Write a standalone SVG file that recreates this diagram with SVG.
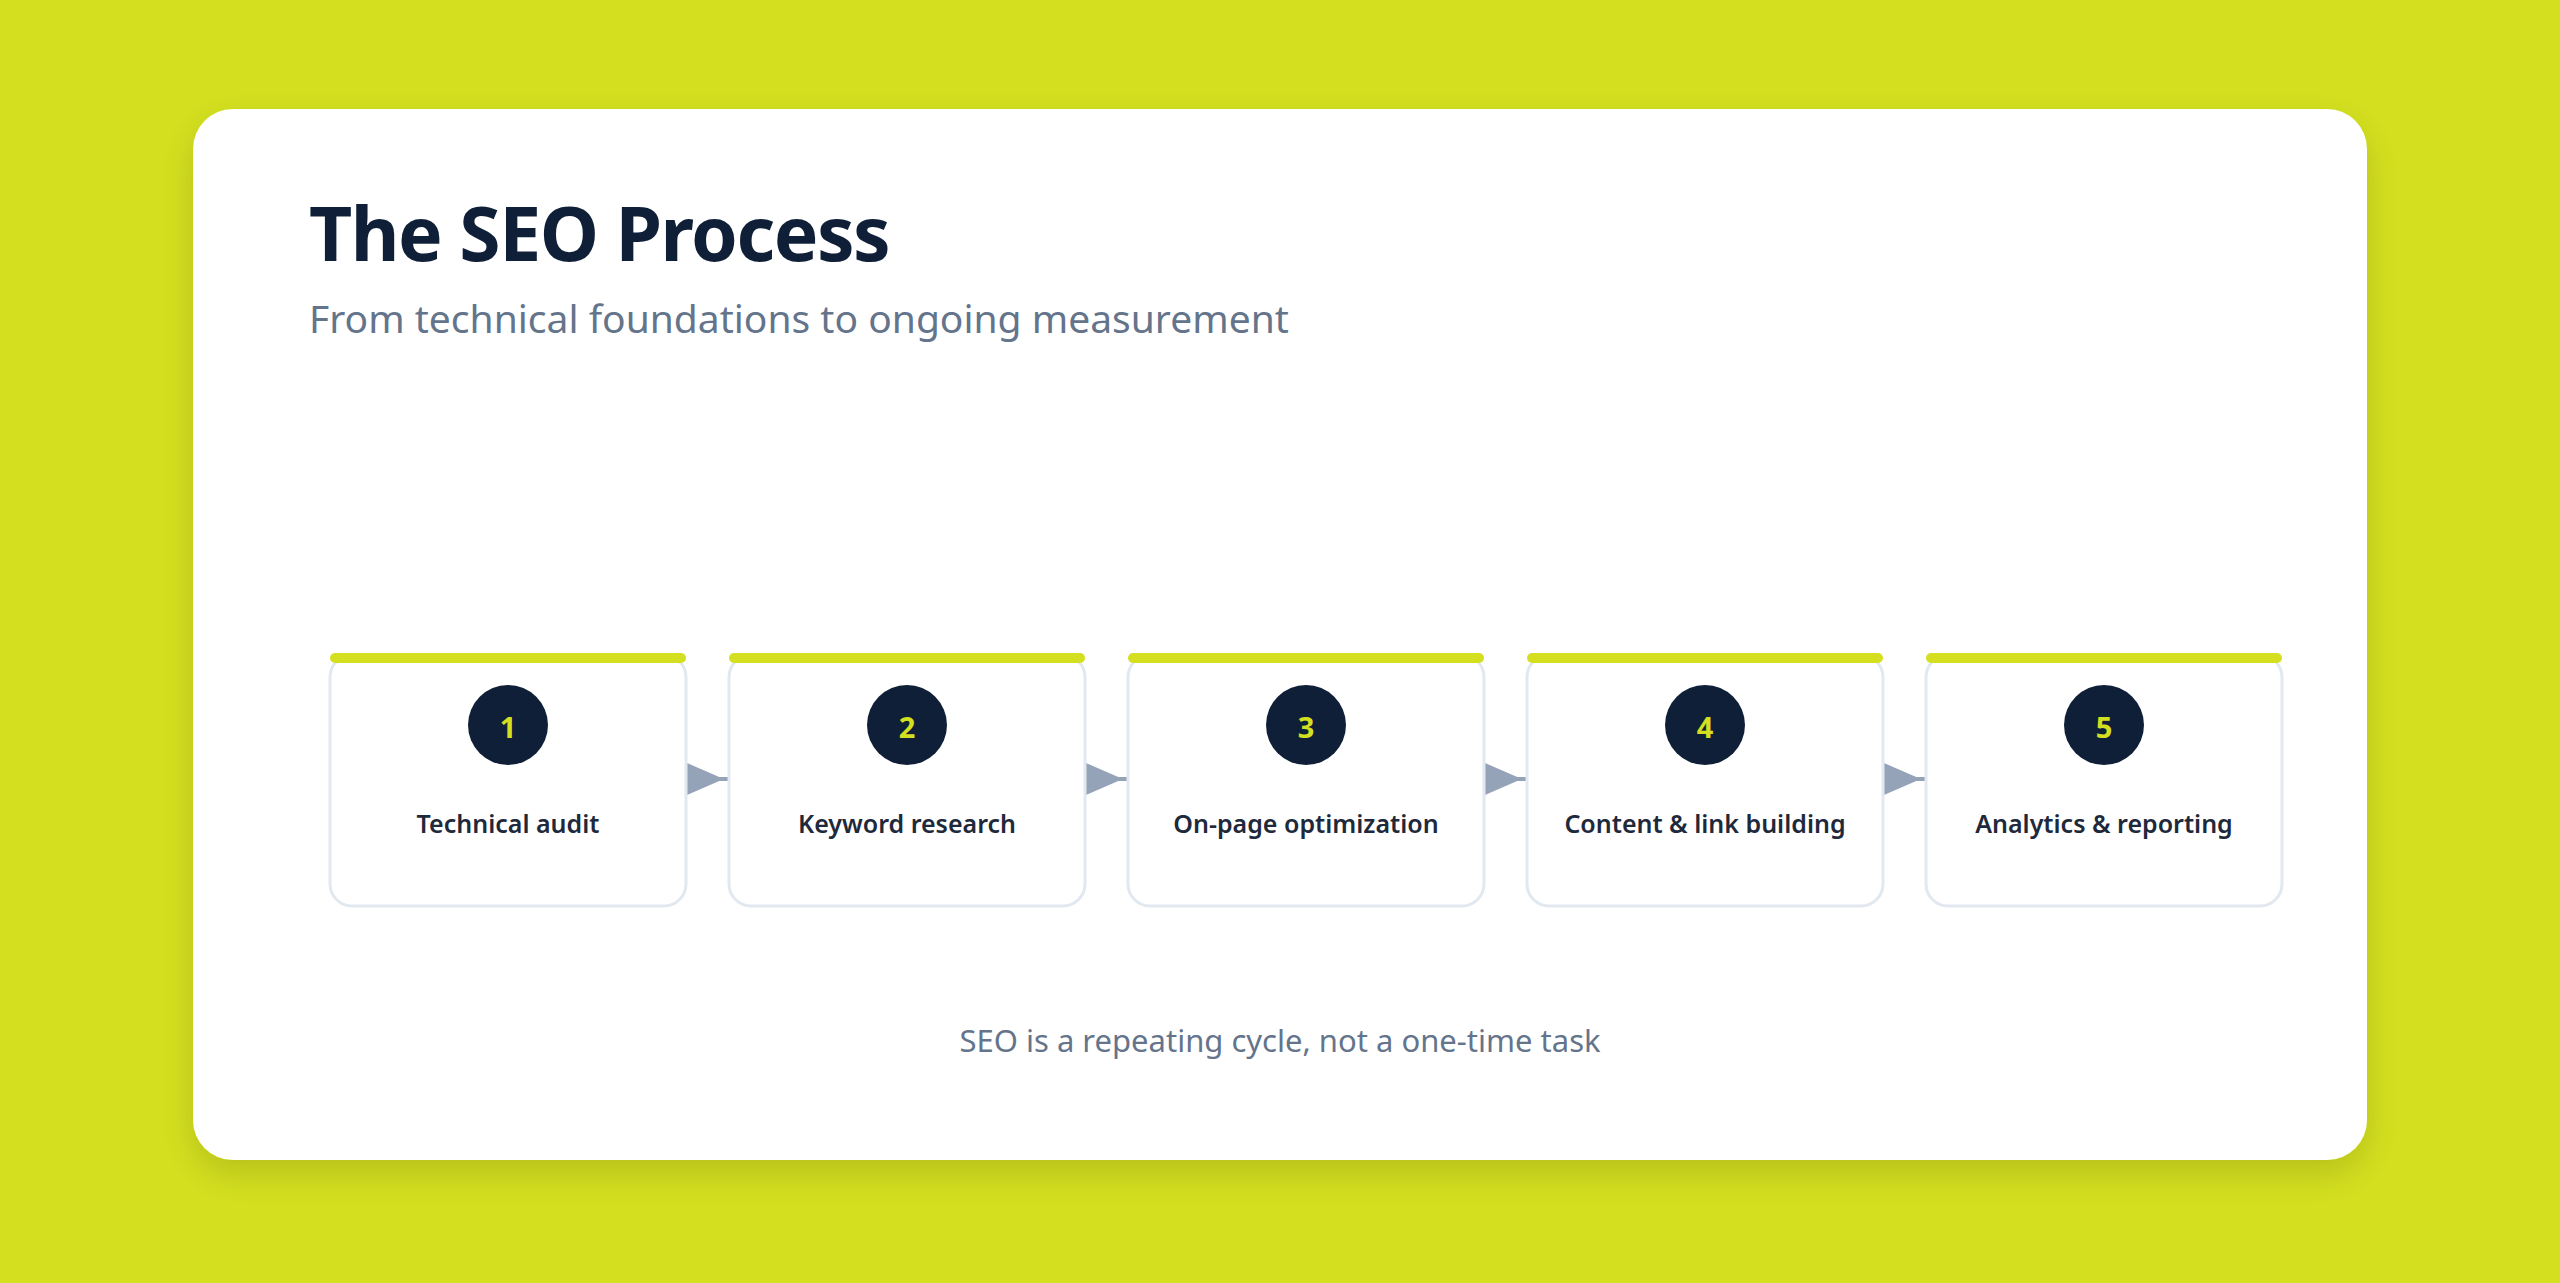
<svg xmlns="http://www.w3.org/2000/svg" width="2560" height="1283" viewBox="0 0 2560 1283">
  <defs>
    <filter id="shadow" x="-10%" y="-10%" width="120%" height="130%">
      <feDropShadow dx="0" dy="14" stdDeviation="18" flood-color="#000000" flood-opacity="0.14"/>
    </filter>
    <marker id="arrow" viewBox="0 0 10 10" preserveAspectRatio="none" markerUnits="userSpaceOnUse" markerWidth="37" markerHeight="32" refX="11.4" refY="5" orient="auto">
      <path d="M0,0 L10,5 L0,10 z" fill="#94a3b8"/>
    </marker>
    <style>
      .title { font-family: "Noto Sans", "Open Sans", sans-serif; font-weight: 700; font-size: 75px; fill: #0f1f38; letter-spacing: -1.5px; }
      .subtitle { font-family: "Noto Sans", "Open Sans", sans-serif; font-weight: 400; font-size: 39px; fill: #64748b; }
      .footer { font-family: "Noto Sans", "Open Sans", sans-serif; font-weight: 400; font-size: 31px; fill: #64748b; }
      .box { fill: #ffffff; stroke: #e2e8f0; stroke-width: 3; }
      .bar { fill: #d4e01f; }
      .badge { fill: #0f1f38; }
      .num { font-family: "Noto Sans", "Open Sans", sans-serif; font-weight: 700; font-size: 29px; fill: #d4e01f; text-anchor: middle; }
      .label { font-family: "Noto Sans", "Open Sans", sans-serif; font-weight: 600; font-size: 25px; fill: #1e293b; text-anchor: middle; }
      .conn { stroke: #94a3b8; stroke-width: 4; fill: none; }
    </style>
  </defs>

  <rect x="0" y="0" width="2560" height="1283" fill="#d4e01f"/>
  <rect x="193" y="109" width="2174" height="1051" rx="40" ry="40" fill="#ffffff" filter="url(#shadow)"/>

  <g id="header">
    <text class="title" x="309" y="261">The SEO Process</text>
    <text class="subtitle" x="309" y="333">From technical foundations to ongoing measurement</text>
  </g>

  <g id="connectors">
    <line class="conn" x1="686" y1="779" x2="729" y2="779" marker-end="url(#arrow)"/>
    <line class="conn" x1="1085" y1="779" x2="1128" y2="779" marker-end="url(#arrow)"/>
    <line class="conn" x1="1484" y1="779" x2="1527" y2="779" marker-end="url(#arrow)"/>
    <line class="conn" x1="1883" y1="779" x2="1926" y2="779" marker-end="url(#arrow)"/>
  </g>

  <g id="step1">
    <rect class="box" x="330" y="655" width="356" height="251" rx="22"/>
    <rect class="bar" x="330" y="653" width="356" height="10" rx="5"/>
    <circle class="badge" cx="508" cy="725" r="40"/>
    <text class="num" x="508" y="738">1</text>
    <text class="label" x="508" y="833">Technical audit</text>
  </g>

  <g id="step2">
    <rect class="box" x="729" y="655" width="356" height="251" rx="22"/>
    <rect class="bar" x="729" y="653" width="356" height="10" rx="5"/>
    <circle class="badge" cx="907" cy="725" r="40"/>
    <text class="num" x="907" y="738">2</text>
    <text class="label" x="907" y="833">Keyword research</text>
  </g>

  <g id="step3">
    <rect class="box" x="1128" y="655" width="356" height="251" rx="22"/>
    <rect class="bar" x="1128" y="653" width="356" height="10" rx="5"/>
    <circle class="badge" cx="1306" cy="725" r="40"/>
    <text class="num" x="1306" y="738">3</text>
    <text class="label" x="1306" y="833">On-page optimization</text>
  </g>

  <g id="step4">
    <rect class="box" x="1527" y="655" width="356" height="251" rx="22"/>
    <rect class="bar" x="1527" y="653" width="356" height="10" rx="5"/>
    <circle class="badge" cx="1705" cy="725" r="40"/>
    <text class="num" x="1705" y="738">4</text>
    <text class="label" x="1705" y="833">Content &amp; link building</text>
  </g>

  <g id="step5">
    <rect class="box" x="1926" y="655" width="356" height="251" rx="22"/>
    <rect class="bar" x="1926" y="653" width="356" height="10" rx="5"/>
    <circle class="badge" cx="2104" cy="725" r="40"/>
    <text class="num" x="2104" y="738">5</text>
    <text class="label" x="2104" y="833">Analytics &amp; reporting</text>
  </g>

  <g id="footer">
    <text class="footer" x="1280" y="1052" text-anchor="middle">SEO is a repeating cycle, not a one-time task</text>
  </g>
</svg>
